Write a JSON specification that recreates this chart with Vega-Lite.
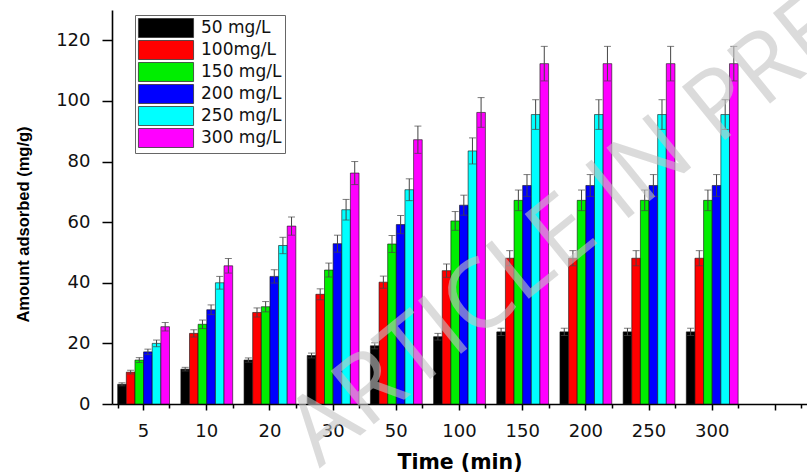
{
  "$schema": "https://vega.github.io/schema/vega-lite/v6.json",
  "width": 695,
  "height": 394,
  "autosize": {"type": "none"},
  "padding": {"left": 112, "top": 10, "right": 0, "bottom": 72},
  "background": "white",
  "config": {
    "view": {"stroke": null},
    "axis": {"labelFont": "DejaVu Sans", "labelFontSize": 18, "labelColor": "#111", "titleColor": "#000", "domainColor": "#000", "tickColor": "#000", "domainWidth": 1.6, "tickWidth": 1.5, "grid": false},
    "legend": {"labelFont": "DejaVu Sans"}
  },
  "datasets": {
    "bars": [
      {"time": "5", "conc": "50 mg/L", "value": 6.5, "lo": 6.0, "hi": 7.0},
      {"time": "5", "conc": "100mg/L", "value": 10.5, "lo": 9.9, "hi": 11.1},
      {"time": "5", "conc": "150 mg/L", "value": 14.5, "lo": 13.7, "hi": 15.3},
      {"time": "5", "conc": "200 mg/L", "value": 17.2, "lo": 16.3, "hi": 18.1},
      {"time": "5", "conc": "250 mg/L", "value": 20.0, "lo": 18.9, "hi": 21.1},
      {"time": "5", "conc": "300 mg/L", "value": 25.5, "lo": 24.1, "hi": 26.9},
      {"time": "10", "conc": "50 mg/L", "value": 11.5, "lo": 10.9, "hi": 12.1},
      {"time": "10", "conc": "100mg/L", "value": 23.3, "lo": 22.1, "hi": 24.5},
      {"time": "10", "conc": "150 mg/L", "value": 26.3, "lo": 24.9, "hi": 27.7},
      {"time": "10", "conc": "200 mg/L", "value": 31.1, "lo": 29.5, "hi": 32.7},
      {"time": "10", "conc": "250 mg/L", "value": 40.0, "lo": 37.9, "hi": 42.1},
      {"time": "10", "conc": "300 mg/L", "value": 45.6, "lo": 43.2, "hi": 48.0},
      {"time": "20", "conc": "50 mg/L", "value": 14.5, "lo": 13.8, "hi": 15.2},
      {"time": "20", "conc": "100mg/L", "value": 30.2, "lo": 28.7, "hi": 31.7},
      {"time": "20", "conc": "150 mg/L", "value": 32.1, "lo": 30.4, "hi": 33.8},
      {"time": "20", "conc": "200 mg/L", "value": 42.1, "lo": 39.9, "hi": 44.3},
      {"time": "20", "conc": "250 mg/L", "value": 52.3, "lo": 49.6, "hi": 55.0},
      {"time": "20", "conc": "300 mg/L", "value": 58.7, "lo": 55.7, "hi": 61.7},
      {"time": "30", "conc": "50 mg/L", "value": 16.0, "lo": 15.2, "hi": 16.8},
      {"time": "30", "conc": "100mg/L", "value": 36.2, "lo": 34.4, "hi": 38.0},
      {"time": "30", "conc": "150 mg/L", "value": 44.2, "lo": 41.9, "hi": 46.5},
      {"time": "30", "conc": "200 mg/L", "value": 52.9, "lo": 50.1, "hi": 55.7},
      {"time": "30", "conc": "250 mg/L", "value": 64.1, "lo": 60.7, "hi": 67.5},
      {"time": "30", "conc": "300 mg/L", "value": 76.2, "lo": 72.4, "hi": 80.0},
      {"time": "50", "conc": "50 mg/L", "value": 19.2, "lo": 18.2, "hi": 20.2},
      {"time": "50", "conc": "100mg/L", "value": 40.2, "lo": 38.2, "hi": 42.2},
      {"time": "50", "conc": "150 mg/L", "value": 52.8, "lo": 50.0, "hi": 55.6},
      {"time": "50", "conc": "200 mg/L", "value": 59.2, "lo": 56.2, "hi": 62.2},
      {"time": "50", "conc": "250 mg/L", "value": 70.7, "lo": 67.1, "hi": 74.3},
      {"time": "50", "conc": "300 mg/L", "value": 87.2, "lo": 82.7, "hi": 91.7},
      {"time": "100", "conc": "50 mg/L", "value": 22.2, "lo": 21.1, "hi": 23.3},
      {"time": "100", "conc": "100mg/L", "value": 44.0, "lo": 41.8, "hi": 46.2},
      {"time": "100", "conc": "150 mg/L", "value": 60.4, "lo": 57.3, "hi": 63.5},
      {"time": "100", "conc": "200 mg/L", "value": 65.6, "lo": 62.3, "hi": 68.9},
      {"time": "100", "conc": "250 mg/L", "value": 83.5, "lo": 79.2, "hi": 87.8},
      {"time": "100", "conc": "300 mg/L", "value": 96.2, "lo": 91.3, "hi": 101.1},
      {"time": "150", "conc": "50 mg/L", "value": 23.8, "lo": 22.6, "hi": 25.0},
      {"time": "150", "conc": "100mg/L", "value": 48.1, "lo": 45.6, "hi": 50.6},
      {"time": "150", "conc": "150 mg/L", "value": 67.2, "lo": 63.8, "hi": 70.6},
      {"time": "150", "conc": "200 mg/L", "value": 72.1, "lo": 68.5, "hi": 75.7},
      {"time": "150", "conc": "250 mg/L", "value": 95.5, "lo": 90.6, "hi": 100.4},
      {"time": "150", "conc": "300 mg/L", "value": 112.3, "lo": 106.6, "hi": 118.0},
      {"time": "200", "conc": "50 mg/L", "value": 23.8, "lo": 22.6, "hi": 25.0},
      {"time": "200", "conc": "100mg/L", "value": 48.1, "lo": 45.6, "hi": 50.6},
      {"time": "200", "conc": "150 mg/L", "value": 67.2, "lo": 63.8, "hi": 70.6},
      {"time": "200", "conc": "200 mg/L", "value": 72.1, "lo": 68.5, "hi": 75.7},
      {"time": "200", "conc": "250 mg/L", "value": 95.5, "lo": 90.6, "hi": 100.4},
      {"time": "200", "conc": "300 mg/L", "value": 112.3, "lo": 106.6, "hi": 118.0},
      {"time": "250", "conc": "50 mg/L", "value": 23.8, "lo": 22.6, "hi": 25.0},
      {"time": "250", "conc": "100mg/L", "value": 48.1, "lo": 45.6, "hi": 50.6},
      {"time": "250", "conc": "150 mg/L", "value": 67.2, "lo": 63.8, "hi": 70.6},
      {"time": "250", "conc": "200 mg/L", "value": 72.1, "lo": 68.5, "hi": 75.7},
      {"time": "250", "conc": "250 mg/L", "value": 95.5, "lo": 90.6, "hi": 100.4},
      {"time": "250", "conc": "300 mg/L", "value": 112.3, "lo": 106.6, "hi": 118.0},
      {"time": "300", "conc": "50 mg/L", "value": 23.8, "lo": 22.6, "hi": 25.0},
      {"time": "300", "conc": "100mg/L", "value": 48.1, "lo": 45.6, "hi": 50.6},
      {"time": "300", "conc": "150 mg/L", "value": 67.2, "lo": 63.8, "hi": 70.6},
      {"time": "300", "conc": "200 mg/L", "value": 72.1, "lo": 68.5, "hi": 75.7},
      {"time": "300", "conc": "250 mg/L", "value": 95.5, "lo": 90.6, "hi": 100.4},
      {"time": "300", "conc": "300 mg/L", "value": 112.3, "lo": 106.6, "hi": 118.0}
    ],
    "watermark": [
      {"time": "200", "conc": "300 mg/L", "value": 68, "label": "ARTICLE IN PRESS"}
    ]
  },
  "layer": [
    {
      "data": {"name": "bars"},
      "mark": {"type": "bar", "stroke": "#111", "strokeWidth": 0.6},
      "encoding": {
        "x": {"field": "time", "type": "nominal", "sort": null,
          "scale": {"domain": ["5","10","20","30","50","100","150","200","250","300","end"], "paddingInner": 0.18, "paddingOuter": 0.09},
          "axis": {"title": "Time (min)", "titleFont": "DejaVu Sans", "titleFontSize": 20.5, "titleFontWeight": "bold", "titlePadding": 12,
            "labelAngle": 0, "labelExpr": "datum.value == 'end' ? '' : datum.label", "tickSize": 6, "labelPadding": 12, "orient": "bottom"}},
        "xOffset": {"field": "conc", "type": "nominal", "sort": null,
          "scale": {"domain": ["50 mg/L","100mg/L","150 mg/L","200 mg/L","250 mg/L","300 mg/L"], "paddingInner": 0, "paddingOuter": 0}},
        "y": {"field": "value", "type": "quantitative",
          "scale": {"domain": [0, 130], "nice": false},
          "axis": {"title": "Amount adsorbed (mg/g)", "titleFont": "Liberation Sans", "titleFontSize": 16.5, "titleFontWeight": "bold",
            "titleX": -89, "titleY": 214, "titleAngle": 270, "titleAlign": "center", "titleBaseline": "middle",
            "values": [0,10,20,30,40,50,60,70,80,90,100,110,120,130],
            "labelExpr": "datum.value % 20 == 0 && datum.value <= 120 ? datum.label : ''",
            "tickSize": {"condition": {"test": "datum.value % 20 == 0 || datum.value == 130", "value": 10}, "value": 4},
            "labelPadding": 12}},
        "color": {"field": "conc", "type": "nominal", "sort": null,
          "scale": {"domain": ["50 mg/L","100mg/L","150 mg/L","200 mg/L","250 mg/L","300 mg/L"], "range": ["#000000","#ff0000","#00ee00","#0000ff","#00ffff","#ff00ff"]},
          "legend": {"title": null, "orient": "none", "legendX": 23, "legendY": 5,
            "symbolType": "M-2.9,-1H2.9V1H-2.9Z", "symbolSize": 361, "symbolStrokeColor": "#333", "symbolStrokeWidth": 0.8, "symbolOpacity": 1,
            "symbolOffset": 18, "labelOffset": 25, "labelFontSize": 17, "labelColor": "#111", "rowPadding": -4.5,
            "fillColor": "white", "strokeColor": "#666", "padding": 3}}
      }
    },
    {
      "data": {"name": "bars"},
      "mark": {"type": "rule", "color": "#444", "strokeWidth": 1},
      "encoding": {
        "x": {"field": "time", "type": "nominal", "sort": null,
          "axis": {"orient": "bottom", "tickBand": "extent", "labels": false, "domain": false, "tickSize": 4, "title": null}},
        "xOffset": {"field": "conc", "type": "nominal", "sort": null},
        "y": {"field": "lo", "type": "quantitative"},
        "y2": {"field": "hi"}
      }
    },
    {
      "data": {"name": "bars"},
      "mark": {"type": "tick", "color": "#444", "thickness": 1, "size": 7},
      "encoding": {
        "x": {"field": "time", "type": "nominal", "sort": null, "axis": null},
        "xOffset": {"field": "conc", "type": "nominal", "sort": null},
        "y": {"field": "hi", "type": "quantitative"}
      }
    },
    {
      "data": {"name": "bars"},
      "mark": {"type": "tick", "color": "#444", "thickness": 1, "size": 7},
      "encoding": {
        "x": {"field": "time", "type": "nominal", "sort": null, "axis": null},
        "xOffset": {"field": "conc", "type": "nominal", "sort": null},
        "y": {"field": "lo", "type": "quantitative"}
      }
    },
    {
      "data": {"name": "watermark"},
      "mark": {"type": "text", "font": "Open Sans", "fontWeight": 400, "fontSize": 96, "angle": 321, "align": "center", "baseline": "middle", "color": "#c4c4c4", "opacity": 0.6},
      "encoding": {
        "x": {"field": "time", "type": "nominal", "axis": null},
        "xOffset": {"field": "conc", "type": "nominal"},
        "y": {"field": "value", "type": "quantitative"},
        "text": {"field": "label"}
      }
    }
  ],
  "resolve": {"axis": {"x": "independent"}}
}
